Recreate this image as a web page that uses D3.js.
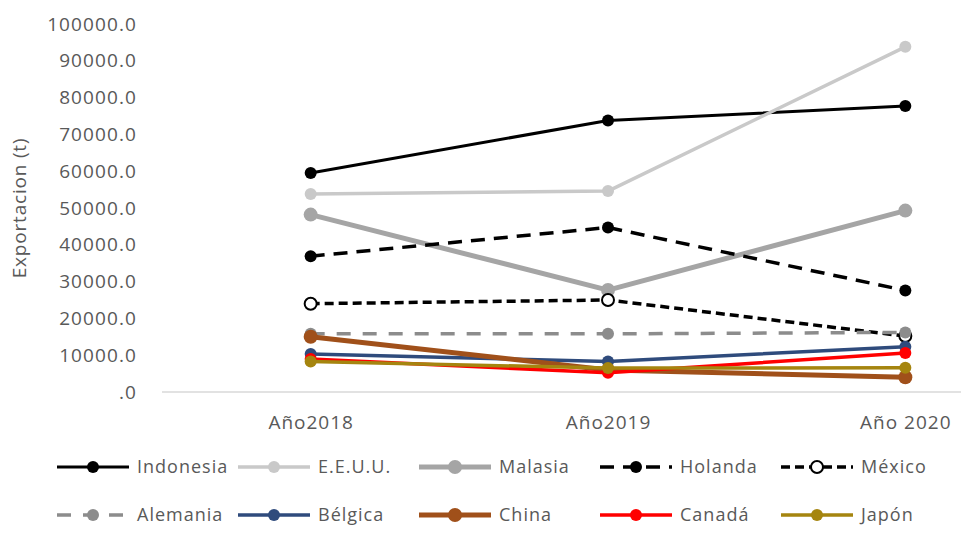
<!DOCTYPE html>
<html>
<head>
<meta charset="utf-8">
<script src="https://cdn.jsdelivr.net/npm/d3@7"></script>
<style>
  html, body { margin: 0; padding: 0; background: #fff; }
  svg text { font-family: "Open Sans", "DejaVu Sans", sans-serif; fill: #595959; }
</style>
</head>
<body>
<svg id="chart" width="961" height="542"></svg>
<script>
// Categories (years) and export tonnage per country
const years = ["Año2018", "Año2019", "Año 2020"];
const yTicks = [0, 10000, 20000, 30000, 40000, 50000, 60000, 70000, 80000, 90000, 100000];

const indonesia = [59500, 73800, 77700];
const eeuu      = [53800, 54600, 93800];
const malasia   = [48200, 27700, 49300];
const holanda   = [36900, 44700, 27600];
const mexico    = [24000, 25000, 15200];
const alemania  = [15800, 15800, 16200];
const belgica   = [10300, 8300, 12300];
const china     = [15000, 6000, 4000];
const canada    = [9000, 5200, 10600];
const japon     = [8300, 6500, 6600];

const seriesNames = ["Indonesia", "E.E.U.U.", "Malasia", "Holanda", "México",
                     "Alemania", "Bélgica", "China", "Canadá", "Japón"];
const seriesValues = [indonesia, eeuu, malasia, holanda, mexico,
                      alemania, belgica, china, canada, japon];

// Visual style per series
const styles = [
  { color: "#000000", width: 3,   dash: null,    r: 6, fill: null },
  { color: "#c9c9c9", width: 3.5, dash: null,    r: 6, fill: null },
  { color: "#a5a5a5", width: 5,   dash: null,    r: 7, fill: null },
  { color: "#000000", width: 3.5, dash: "14,9",  r: 6, fill: null },
  { color: "#000000", width: 3.5, dash: "9,5",   r: 6, fill: "#ffffff" },
  { color: "#8c8c8c", width: 3.5, dash: "14,12", r: 6, fill: null },
  { color: "#2f4b7c", width: 3.5, dash: null,    r: 6, fill: null },
  { color: "#a0501a", width: 5,   dash: null,    r: 7, fill: null },
  { color: "#ff0000", width: 3.5, dash: null,    r: 6, fill: null },
  { color: "#a5850f", width: 3.5, dash: null,    r: 6, fill: null }
];

const svg = d3.select("#chart");

const plot = { left: 162, right: 1054, top: 24, bottom: 392 };

const x = d3.scalePoint()
  .domain(years)
  .range([plot.left, plot.right])
  .padding(0.5);

const y = d3.scaleLinear()
  .domain([0, 100000])
  .range([plot.bottom, plot.top]);

// Y axis labels (no axis line, no gridlines)
const yAxis = d3.axisLeft(y)
  .tickValues(yTicks)
  .tickSize(0)
  .tickPadding(0)
  .tickFormat(d => d === 0 ? ".0" : d3.format(".1f")(d));

const gy = svg.append("g")
  .attr("transform", `translate(137,0)`)
  .call(yAxis);
gy.select(".domain").remove();
gy.selectAll("text")
  .attr("font-size", 19)
  .attr("letter-spacing", "1.1px")
  .style("font-family", "\"Open Sans\", sans-serif")
  .attr("fill", "#595959");

// X axis: baseline and category labels
const xAxis = d3.axisBottom(x).tickSize(0).tickPadding(24);
const gx = svg.append("g")
  .attr("transform", `translate(0,${plot.bottom})`)
  .call(xAxis);
gx.select(".domain")
  .attr("stroke", "#d9d9d9")
  .attr("stroke-width", 1.5)
  .attr("d", `M${plot.left},0H${plot.right}`);
gx.selectAll("text")
  .attr("font-size", 19)
  .attr("letter-spacing", "1px")
  .style("font-family", "\"Open Sans\", sans-serif")
  .attr("fill", "#595959");

// Y axis title
svg.append("text")
  .attr("transform", `translate(26,${(plot.top + plot.bottom) / 2}) rotate(-90)`)
  .attr("text-anchor", "middle")
  .attr("font-size", 19)
  .attr("letter-spacing", "0.8px")
  .text("Exportacion (t)");

// Series lines and markers
const line = d3.line()
  .x((d, i) => x(years[i]))
  .y(d => y(d));

const gSeries = svg.append("g");
seriesValues.forEach((vals, k) => {
  const s = styles[k];
  const g = gSeries.append("g");
  g.append("path")
    .datum(vals)
    .attr("d", line)
    .attr("fill", "none")
    .attr("stroke", s.color)
    .attr("stroke-width", s.width)
    .attr("stroke-dasharray", s.dash)
    .attr("stroke-linejoin", "round");
  g.selectAll("circle")
    .data(vals)
    .join("circle")
    .attr("cx", (d, i) => x(years[i]))
    .attr("cy", d => y(d))
    .attr("r", s.r)
    .attr("fill", s.fill || s.color)
    .attr("stroke", s.color)
    .attr("stroke-width", s.fill ? 2 : 0);
});

// Legend: two rows of five entries
const legend = svg.append("g");
const colW = 181, symW = 72;
seriesNames.forEach((name, k) => {
  const s = styles[k];
  const col = k % 5, row = Math.floor(k / 5);
  const lx = 57 + col * colW;
  const ly = 467 + row * 48;
  const g = legend.append("g").attr("transform", `translate(${lx},${ly})`);
  g.append("line")
    .attr("x1", 0).attr("x2", symW)
    .attr("y1", 0).attr("y2", 0)
    .attr("stroke", s.color)
    .attr("stroke-width", s.width)
    .attr("stroke-dasharray", s.dash);
  g.append("circle")
    .attr("cx", symW / 2).attr("cy", 0)
    .attr("r", s.r)
    .attr("fill", s.fill || s.color)
    .attr("stroke", s.color)
    .attr("stroke-width", s.fill ? 2 : 0);
  g.append("text")
    .attr("x", symW + 8)
    .attr("y", 0)
    .attr("dy", "0.35em")
    .attr("font-size", 18)
    .attr("letter-spacing", "1px")
    .text(name);
});
</script>
</body>
</html>
